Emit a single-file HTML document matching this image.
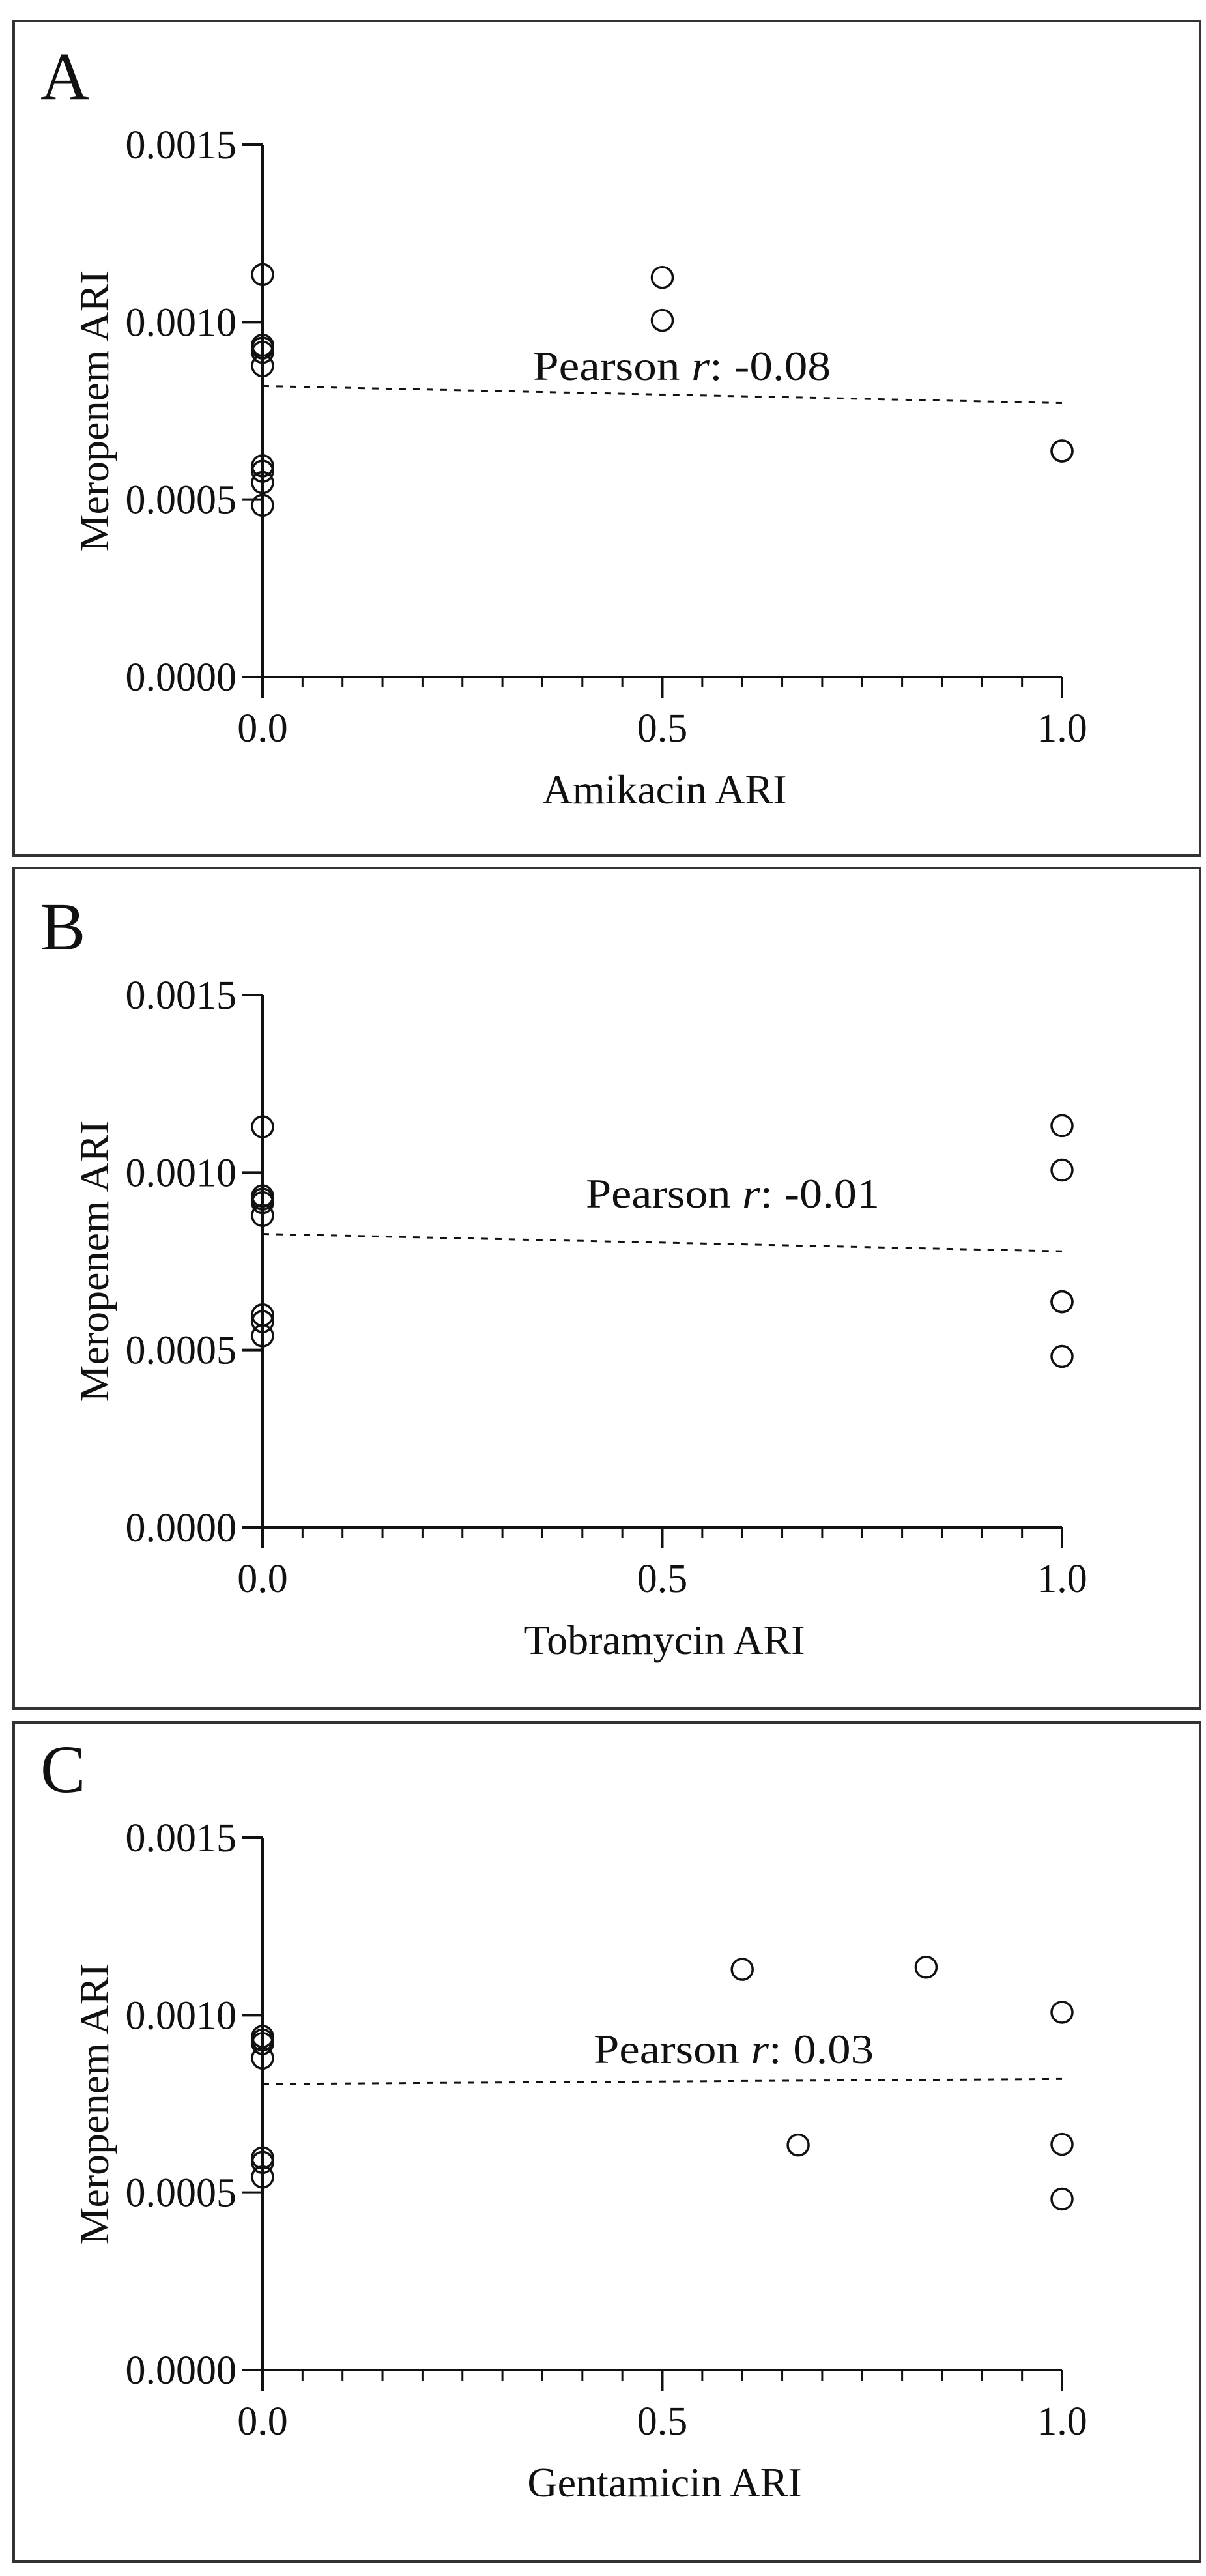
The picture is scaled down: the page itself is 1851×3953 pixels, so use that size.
<!DOCTYPE html>
<html><head><meta charset="utf-8">
<style>
html,body{margin:0;padding:0;background:#fff;}
svg{display:block;}
text{font-family:"Liberation Serif","Times New Roman",serif;fill:#111;}
</style></head>
<body>
<svg id="fig" width="1851" height="3953" viewBox="0 0 1851 3953" xmlns="http://www.w3.org/2000/svg"></svg>
<script>
// ---- data ----
const panelLetters = ["A","B","C"];
const xTitles = ["Amikacin ARI","Tobramycin ARI","Gentamicin ARI"];
const pearsonLabels = ["-0.08","-0.01","0.03"];
const yTickValues = [0, 0.0005, 0.0010, 0.0015];
const yTickLabels = ["0.0000","0.0005","0.0010","0.0015"];
const xTickValues = [0, 0.5, 1.0];
const xTickLabels = ["0.0","0.5","1.0"];
const xA = [0,0,0,0,0,0,0,0,0,0.5,0.5,1,1];
const yA = [0.001134,0.000935,0.000927,0.000915,0.000877,0.000595,0.000580,0.000548,0.000484,0.001126,0.001005,0.000637,0.000637];
const xB = [0,0,0,0,0,0,0,0,1,1,1,1,1];
const yB = [0.001129,0.000934,0.000925,0.000915,0.000879,0.000599,0.000580,0.000540,0.001132,0.001007,0.000636,0.000636,0.000482];
const xC = [0,0,0,0,0,0,0,0.60,0.83,1,0.67,1,1];
const yC = [0.000940,0.000930,0.000920,0.000879,0.000598,0.000585,0.000544,0.001129,0.001135,0.001008,0.000634,0.000636,0.000482];
const fitStart = [0.000820, 0.000827, 0.000806];
const fitEnd = [0.000772, 0.000778, 0.000820];
const xsAll = [xA, xB, xC];
const ysAll = [yA, yB, yC];

// ---- layout ----
const boxTops = [32, 1332, 2643];
const boxBottoms = [1313, 2622, 3931];
const axisTops = [222, 1527, 2820];
const pearsonX = [818, 899, 911];
const pearsonY = [583, 1853, 3166];
const pearsonW = [457, 451, 430];
const AX_LEFT = 403, AX_RIGHT = 1630, AX_H = 817;
const NS = "http://www.w3.org/2000/svg";
const svg = document.getElementById("fig");
function mk(tag, attrs, parent){
  const e = document.createElementNS(NS, tag);
  for (const k in attrs) e.setAttribute(k, attrs[k]);
  (parent||svg).appendChild(e);
  return e;
}

for (let p = 0; p < 3; p++) {
  const top = axisTops[p];
  const bottom = top + AX_H;
  const xScale = v => AX_LEFT + v * (AX_RIGHT - AX_LEFT);
  const yScale = v => bottom - v / 0.0015 * AX_H;
  const g = mk("g", {});
  
  

  const box = mk("rect", {x:21, y:boxTops[p], width:1821, height:boxBottoms[p]-boxTops[p], fill:"none", stroke:"#333", "stroke-width":4}, g);
  
  

  const letter = mk("text", {x:62, y:top-70, "font-size":104}, g);
  letter.textContent = panelLetters[p];
  
  

  const ya = mk("line", {x1:AX_LEFT, y1:top, x2:AX_LEFT, y2:bottom+32, stroke:"#111", "stroke-width":4}, g);
  
  
  yTickValues.forEach((v, i) => {
    const y = yScale(v);
    const t = mk("line", {x1:AX_LEFT-32, y1:y, x2:AX_LEFT, y2:y, stroke:"#111", "stroke-width":4}, g);
    
    
    const lb = mk("text", {x:AX_LEFT-40, y:y+21, "font-size":62, "text-anchor":"end"}, g);
    lb.textContent = yTickLabels[i];
    
    
  });
  const xa = mk("line", {x1:AX_LEFT-32, y1:bottom, x2:AX_RIGHT, y2:bottom, stroke:"#111", "stroke-width":4}, g);
  
  
  for (let k = 1; k <= 20; k++) {
    const major = (k % 10 === 0);
    const x = xScale(k / 20);
    const t = mk("line", {x1:x, y1:bottom, x2:x, y2:bottom + (major ? 32 : 16), stroke:"#111", "stroke-width":major?4:3}, g);
    
    
  }
  xTickValues.forEach((v, i) => {
    const lb = mk("text", {x:xScale(v), y:bottom+99, "font-size":62, "text-anchor":"middle"}, g);
    lb.textContent = xTickLabels[i];
    
    
  });
  const xt = mk("text", {x:1020, y:bottom+194, "font-size":64, "text-anchor":"middle"}, g);
  xt.textContent = xTitles[p];
  
  
  const yt = mk("text", {x:0, y:0, "font-size":64, "text-anchor":"middle", transform:"translate(166," + (top + AX_H/2) + ") rotate(-90)"}, g);
  yt.textContent = "Meropenem ARI";
  
  

  const fl = mk("line", {x1:xScale(0), y1:yScale(fitStart[p]), x2:xScale(1), y2:yScale(fitEnd[p]), stroke:"#111", "stroke-width":3, "stroke-dasharray":"10 11"}, g);
  
  

  const pt = mk("text", {x:pearsonX[p], y:pearsonY[p], "font-size":64, textLength:pearsonW[p], lengthAdjust:"spacingAndGlyphs"}, g);
  
  
  const t1 = mk("tspan", {}, pt); t1.textContent = "Pearson ";
  const t2 = mk("tspan", {"font-style":"italic"}, pt); t2.textContent = "r";
  const t3 = mk("tspan", {}, pt); t3.textContent = ": " + pearsonLabels[p];

  const xs = xsAll[p], ys = ysAll[p];
  for (let i = 0; i < xs.length; i++) {
    const c = mk("circle", {cx:xScale(xs[i]), cy:yScale(ys[i]), r:16, fill:"none", stroke:"#111", "stroke-width":3.5}, g);
    
    
  }
}
</script>
</body></html>
